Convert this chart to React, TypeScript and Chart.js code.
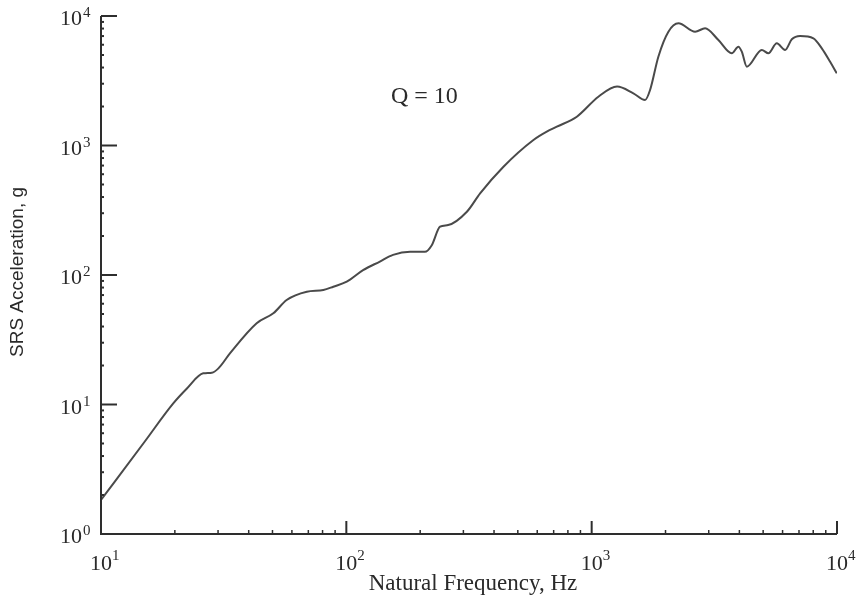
import React, { useEffect, useRef } from "react";
import { Chart, registerables } from "chart.js";

Chart.register(...registerables);

// Natural frequency (Hz)
const frequencies = [
  10, 14.9, 19.7, 22.4, 26.1, 28.3, 30.1, 33.6, 43.1, 50.4, 57.1, 69.0, 80.6, 88.5,
  100.4, 117, 137, 155, 182, 209, 223, 241, 260, 310, 351, 437, 579, 656, 721, 870,
  1065, 1269, 1479, 1651, 1730, 1870, 2055, 2257, 2640, 2900, 3285, 3725, 3963, 4092,
  4289, 4937, 5253, 5683, 6144, 6543, 7073, 8014, 8670, 9375, 9980,
];
// SRS acceleration (g)
const accelerations = [
  1.83, 5.02, 10.2, 13.3, 17.4, 17.6, 19.0, 24.9, 42.4, 50.6, 64.1, 74.3, 76.6, 81.2,
  88.8, 109, 127, 143, 151, 151, 170, 236, 243, 308, 427, 686, 1103, 1279, 1397, 1669,
  2381, 2855, 2530, 2246, 2683, 4851, 7563, 8785, 7563, 8035, 6527, 5152, 5794, 5301,
  4060, 5464, 5152, 6153, 5464, 6607, 7008, 6727, 5630, 4436, 3610,
];

const xDecades = [1, 2, 3, 4]; // exponents of 10 on x axis
const yDecades = [0, 1, 2, 3, 4]; // exponents of 10 on y axis
const xTitle = "Natural Frequency, Hz";
const yTitle = "SRS Acceleration, g";
const annotation = "Q = 10";

const axisColor = "#2e2e2e";
const textColor = "#2a2a2a";

const axesPlugin = {
  id: "srsAxes",
  afterDraw(chart: any) {
    const ctx = chart.ctx as CanvasRenderingContext2D;
    const xs = chart.scales.x;
    const ys = chart.scales.y;
    const area = chart.chartArea;
    ctx.save();
    ctx.strokeStyle = axisColor;
    ctx.lineWidth = 2;
    // axis lines
    ctx.beginPath();
    ctx.moveTo(area.left, area.top);
    ctx.lineTo(area.left, area.bottom);
    ctx.lineTo(area.right, area.bottom);
    ctx.stroke();

    // y ticks
    yDecades.forEach((e, i) => {
      const v = Math.pow(10, e);
      const py = ys.getPixelForValue(v);
      ctx.lineWidth = 2;
      ctx.beginPath();
      ctx.moveTo(area.left, py);
      ctx.lineTo(area.left + 16, py);
      ctx.stroke();
      if (i < yDecades.length - 1) {
        for (let k = 2; k <= 9; k++) {
          const my = ys.getPixelForValue(k * v);
          ctx.lineWidth = 2;
          ctx.beginPath();
          ctx.moveTo(area.left, my);
          ctx.lineTo(area.left + 3, my);
          ctx.stroke();
        }
      }
      ctx.fillStyle = textColor;
      ctx.font = "22px 'Liberation Serif', 'Times New Roman', serif";
      ctx.textAlign = "right";
      ctx.textBaseline = "alphabetic";
      ctx.fillText("10", 82, py + 9);
      ctx.font = "15px 'Liberation Serif', 'Times New Roman', serif";
      ctx.textAlign = "left";
      ctx.fillText(String(e), 83, py + 1);
    });

    // x ticks
    xDecades.forEach((e, i) => {
      const v = Math.pow(10, e);
      const px = xs.getPixelForValue(v);
      ctx.lineWidth = 2;
      ctx.beginPath();
      ctx.moveTo(px, area.bottom);
      ctx.lineTo(px, area.bottom - 13);
      ctx.stroke();
      if (i < xDecades.length - 1) {
        for (let k = 2; k <= 9; k++) {
          const mx = xs.getPixelForValue(k * v);
          ctx.lineWidth = 1.5;
          ctx.beginPath();
          ctx.moveTo(mx, area.bottom);
          ctx.lineTo(mx, area.bottom - 4);
          ctx.stroke();
        }
      }
      ctx.fillStyle = textColor;
      ctx.font = "22px 'Liberation Serif', 'Times New Roman', serif";
      ctx.textAlign = "center";
      ctx.textBaseline = "alphabetic";
      ctx.fillText("10", px, area.bottom + 36);
      ctx.font = "15px 'Liberation Serif', 'Times New Roman', serif";
      ctx.textAlign = "left";
      ctx.fillText(String(e), px + 11, area.bottom + 26);
    });

    // titles
    ctx.fillStyle = textColor;
    ctx.font = "23px 'Liberation Serif', 'Times New Roman', serif";
    ctx.textAlign = "center";
    ctx.textBaseline = "alphabetic";
    ctx.fillText(xTitle, 473, area.bottom + 56);

    ctx.save();
    ctx.translate(18, 272);
    ctx.rotate(-Math.PI / 2);
    ctx.font = "19px 'Liberation Sans', Arial, sans-serif";
    ctx.textAlign = "center";
    ctx.textBaseline = "middle";
    ctx.fillText(yTitle, 0, 0);
    ctx.restore();

    ctx.font = "24px 'Liberation Serif', 'Times New Roman', serif";
    ctx.textAlign = "left";
    ctx.textBaseline = "alphabetic";
    ctx.fillText(annotation, 391, 103);
    ctx.restore();
  },
};

export default function App() {
  const ref = useRef<HTMLCanvasElement | null>(null);
  useEffect(() => {
    if (!ref.current) return;
    const points = frequencies.map((f, i) => ({ x: f, y: accelerations[i] }));
    const chart = new Chart(ref.current, {
      type: "line",
      data: {
        datasets: [
          {
            data: points,
            borderColor: "#4a4a4a",
            borderWidth: 2,
            pointRadius: 0,
            tension: 0.3,
            cubicInterpolationMode: "monotone",
            fill: false,
          },
        ],
      },
      options: {
        animation: false,
        responsive: false,
        maintainAspectRatio: false,
        layout: { padding: { left: 101, right: 24, top: 16, bottom: 67 } },
        plugins: { legend: { display: false }, tooltip: { enabled: false }, title: { display: false } },
        scales: {
          x: { type: "logarithmic", min: 10, max: 10000, display: false },
          y: { type: "logarithmic", min: 1, max: 10000, display: false },
        },
      },
      plugins: [axesPlugin],
    } as any);
    return () => chart.destroy();
  }, []);
  return (
    <div style={{ position: "absolute", left: 0, top: 0, width: 861, height: 601, background: "#fff" }}>
      <canvas ref={ref} width={861} height={601} style={{ display: "block" }} />
    </div>
  );
}
